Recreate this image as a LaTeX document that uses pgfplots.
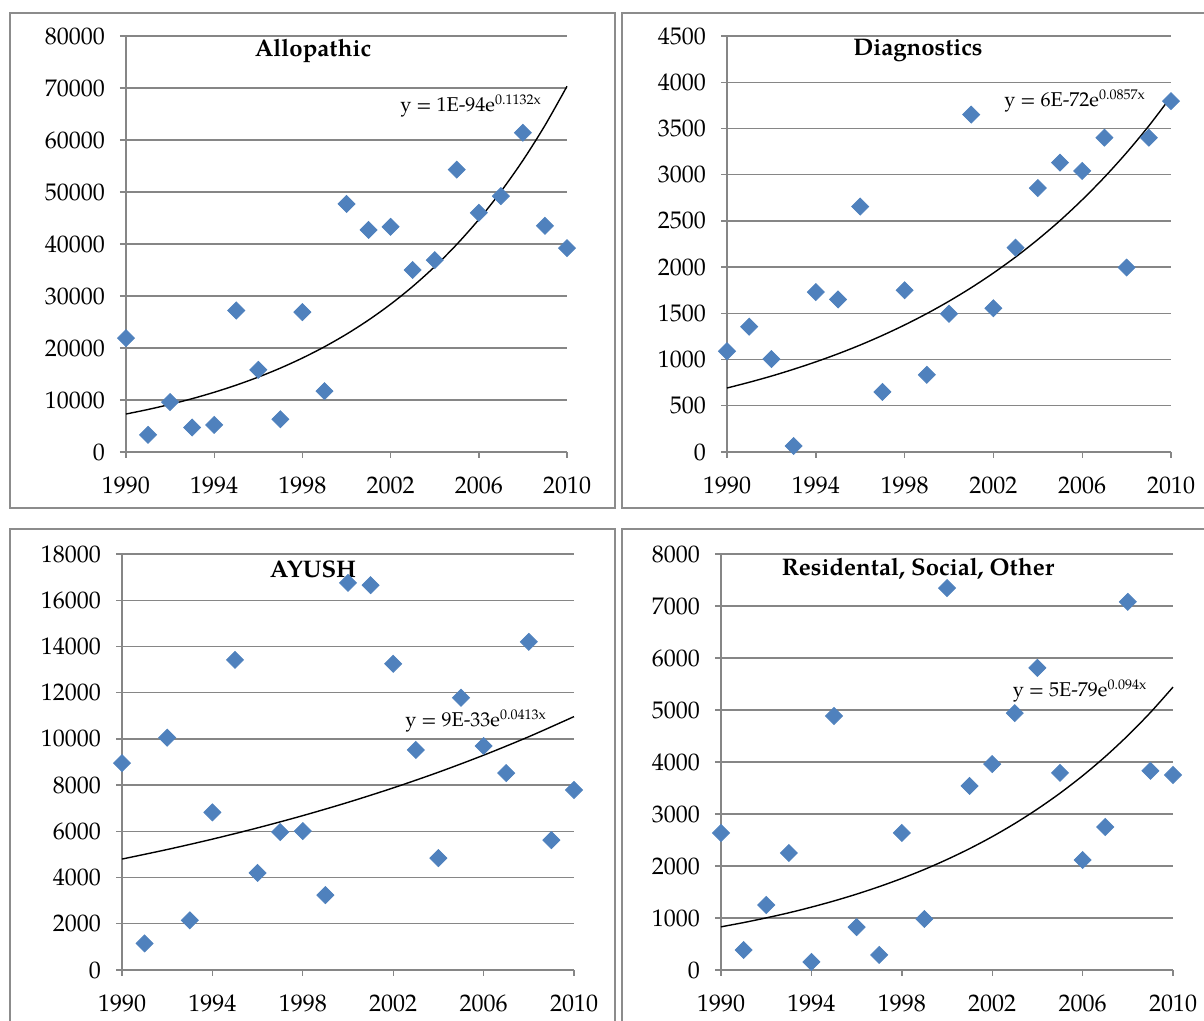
\documentclass[border=0pt]{standalone}
\usepackage{fontspec}
\setmainfont{TeX Gyre Pagella}
\usepackage{pgfplots}
\pgfplotsset{compat=1.18}
\definecolor{mk}{HTML}{4F81BD}
\definecolor{gr}{HTML}{868686}
\definecolor{bx}{HTML}{8C8C8C}
\pgfplotsset{
  panel/.style={
    scale only axis, anchor=south west, height=208pt,
    xmin=1990, xmax=2010, ymin=0, clip=false,
    xtick={1990,1994,...,2010},
    axis lines*=left,
    axis line style={gr, line width=0.7pt},
    ymajorgrids, grid style={gr, line width=0.7pt},
    tick align=outside, major tick length=3pt,
    tick style={gr, line width=0.7pt},
    scaled y ticks=false,
    /pgf/number format/1000 sep={},
    /pgf/number format/assume math mode=true,
    ticklabel style={font=\fontsize{12}{12}\selectfont},
    xticklabel style={yshift=-6pt},
    yticklabel style={xshift=-4pt},
  },
  pts/.style={only marks, mark=square*, mark size=3pt,
    mark options={rotate=45, fill=mk, draw=mk}},
  trend/.style={black, line width=0.7pt, smooth, no marks},
}
\begin{document}
\begin{tikzpicture}
\begin{scope}[x=0.5pt,y=0.5pt]
\useasboundingbox (0,0) rectangle (1204,1021);
% panel frames
\draw[bx, line width=1pt] (10,1008) rectangle (615,513);
\draw[bx, line width=1pt] (1210,1008) -- (622,1008) -- (622,513) -- (1210,513);
\draw[bx, line width=1pt] (10,-10) -- (10,492) -- (615,492) -- (615,-10);
\draw[bx, line width=1pt] (622,-10) -- (622,492) -- (1210,492);
% titles
\node[font=\bfseries\fontsize{12}{12}\selectfont] at (313,970) {Allopathic};
\node[font=\bfseries\fontsize{12}{12}\selectfont] at (918,970) {Diagnostics};
\node[font=\bfseries\fontsize{12}{12}\selectfont] at (313,452) {AYUSH};
\node[font=\bfseries\fontsize{12}{12}\selectfont] at (918,452) {Residental, Social, Other};
% trendline equations
\node[font=\fontsize{10}{10}\selectfont] at (471,915) {y = 1E-94e\textsuperscript{0.1132x}};
\node[font=\fontsize{10}{10}\selectfont] at (1075,920) {y = 6E-72e\textsuperscript{0.0857x}};
\node[font=\fontsize{10}{10}\selectfont] at (476,300) {y = 9E-33e\textsuperscript{0.0413x}};
\node[font=\fontsize{10}{10}\selectfont] at (1080,330) {y = 5E-79e\textsuperscript{0.094x}};
\end{scope}

% Allopathic
\begin{axis}[panel, at={(63pt,284.5pt)}, width=220.5pt, ymax=80000,
  ytick={0,10000,...,80000}]
\addplot[pts] coordinates {(1990,21900) (1991,3300) (1992,9600) (1993,4700) (1994,5200)
 (1995,27200) (1996,15800) (1997,6300) (1998,26900) (1999,11700) (2000,47700)
 (2001,42700) (2002,43300) (2003,35000) (2004,36900) (2005,54300) (2006,46000)
 (2007,49200) (2008,61400) (2009,43500) (2010,39200)};
\addplot[trend] coordinates {(1990,7300) (1991,8175) (1992,9156) (1993,10254) (1994,11484)
 (1995,12861) (1996,14403) (1997,16130) (1998,18065) (1999,20231) (2000,22658)
 (2001,25375) (2002,28418) (2003,31827) (2004,35644) (2005,39919) (2006,44706)
 (2007,50068) (2008,56073) (2009,62798) (2010,70329)};
\end{axis}

% Diagnostics
\begin{axis}[panel, at={(363.5pt,284.5pt)}, width=222pt, ymax=4500,
  ytick={0,500,...,4500}]
\addplot[pts] coordinates {(1990,1090) (1991,1355) (1992,1005) (1993,65) (1994,1730)
 (1995,1650) (1996,2655) (1997,650) (1998,1750) (1999,835) (2000,1495)
 (2001,3650) (2002,1555) (2003,2210) (2004,2855) (2005,3130) (2006,3040)
 (2007,3400) (2008,1995) (2009,3400) (2010,3795)};
\addplot[trend] coordinates {(1990,692) (1991,754) (1992,821) (1993,895) (1994,975)
 (1995,1062) (1996,1157) (1997,1261) (1998,1374) (1999,1497) (2000,1631)
 (2001,1777) (2002,1936) (2003,2109) (2004,2298) (2005,2503) (2006,2728)
 (2007,2972) (2008,3238) (2009,3527) (2010,3843)};
\end{axis}

% AYUSH
\begin{axis}[panel, at={(61pt,25.5pt)}, width=226pt, ymax=18000,
  ytick={0,2000,...,18000}]
\addplot[pts] coordinates {(1990,8950) (1991,1150) (1992,10050) (1993,2150) (1994,6820)
 (1995,13420) (1996,4200) (1997,5970) (1998,6010) (1999,3240) (2000,16750)
 (2001,16650) (2002,13250) (2003,9520) (2004,4840) (2005,11780) (2006,9690)
 (2007,8520) (2008,14200) (2009,5620) (2010,7790)};
\addplot[trend] coordinates {(1990,4800) (1992,5213) (1994,5662) (1996,6150) (1998,6679)
 (2000,7254) (2002,7879) (2004,8557) (2006,9294) (2008,10094) (2010,10964)};
\end{axis}

% Residental, Social, Other
\begin{axis}[panel, at={(360.5pt,25.5pt)}, width=226pt, ymax=8000,
  ytick={0,1000,...,8000}]
\addplot[pts] coordinates {(1990,2635) (1991,385) (1992,1250) (1993,2250) (1994,155)
 (1995,4885) (1996,825) (1997,290) (1998,2635) (1999,980) (2000,7345)
 (2001,3540) (2002,3960) (2003,4940) (2004,5810) (2005,3790) (2006,2115)
 (2007,2750) (2008,7080) (2009,3830) (2010,3750)};
\addplot[trend] coordinates {(1990,830) (1991,912) (1992,1002) (1993,1100) (1994,1209)
 (1995,1328) (1996,1459) (1997,1603) (1998,1761) (1999,1934) (2000,2125)
 (2001,2334) (2002,2564) (2003,2817) (2004,3095) (2005,3400) (2006,3735)
 (2007,4103) (2008,4508) (2009,4952) (2010,5440)};
\end{axis}
\end{tikzpicture}
\end{document}
